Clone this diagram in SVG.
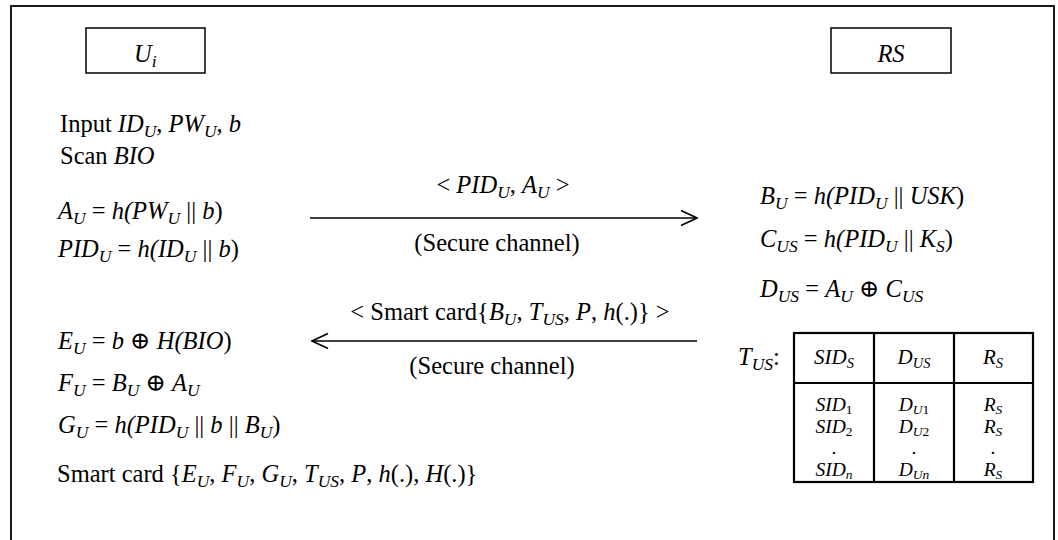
<svg xmlns="http://www.w3.org/2000/svg" width="1058" height="540" viewBox="0 0 1058 540">
<style>
text{font-family:"Liberation Serif","Times New Roman","DejaVu Serif",serif;font-size:24.5px;fill:#000}
.i{font-style:italic}
.s{font-size:17.5px}
.n{font-style:normal}
.tb{font-size:21px}
.tb .s{font-size:14.5px}
.tr{font-size:19.5px}
.tr .s{font-size:13.5px}
.box{fill:#fff;stroke:#000;stroke-width:1.5}
.ln{stroke:#000;stroke-width:1.6;fill:none}
.tl{stroke:#000;stroke-width:2.2;fill:none}
</style>
<defs>
<marker id="ah" viewBox="0 0 18 18" refX="17" refY="9" markerWidth="18" markerHeight="18" markerUnits="userSpaceOnUse" orient="auto">
<path d="M1,1.5 L17,9 L1,16.5" fill="none" stroke="#000" stroke-width="1.6"/>
</marker>
</defs>
<rect x="0" y="0" width="1058" height="540" fill="#fff"/>
<rect x="11" y="6" width="1043" height="540" fill="none" stroke="#000" stroke-width="1.8"/>

<g id="node-ui">
<rect class="box" x="86" y="28" width="119" height="45"/>
<text x="134" y="62" class="i">U<tspan class="s" dy="5">i</tspan></text>
</g>

<g id="node-rs">
<rect class="box" x="831" y="28" width="120" height="45"/>
<text x="891" y="62" class="i" text-anchor="middle">RS</text>
</g>

<g id="user-steps">
<text x="60" y="132">Input <tspan class="i">ID</tspan><tspan class="i s" dy="5">U</tspan><tspan dy="-5">, </tspan><tspan class="i">PW</tspan><tspan class="i s" dy="5">U</tspan><tspan dy="-5">, </tspan><tspan class="i">b</tspan></text>
<text x="60" y="164">Scan <tspan class="i">BIO</tspan></text>
<text x="58" y="219" class="i">A<tspan class="s" dy="5">U</tspan><tspan dy="-5" class="n"> = </tspan>h(PW<tspan class="s" dy="5">U</tspan><tspan dy="-5" class="n"> || </tspan>b<tspan class="n">)</tspan></text>
<text x="58" y="257" class="i">PID<tspan class="s" dy="5">U</tspan><tspan dy="-5" class="n"> = </tspan>h(ID<tspan class="s" dy="5">U</tspan><tspan dy="-5" class="n"> || </tspan>b<tspan class="n">)</tspan></text>
<text x="58" y="349" class="i">E<tspan class="s" dy="5">U</tspan><tspan dy="-5" class="n"> = </tspan>b<tspan class="n"> ⊕ </tspan>H(BIO<tspan class="n">)</tspan></text>
<text x="58" y="391" class="i">F<tspan class="s" dy="5">U</tspan><tspan dy="-5" class="n"> = </tspan>B<tspan class="s" dy="5">U</tspan><tspan dy="-5" class="n"> ⊕ </tspan>A<tspan class="s" dy="5">U</tspan></text>
<text x="58" y="433" class="i">G<tspan class="s" dy="5">U</tspan><tspan dy="-5" class="n"> = </tspan>h(PID<tspan class="s" dy="5">U</tspan><tspan dy="-5" class="n"> || </tspan>b<tspan class="n"> || </tspan>B<tspan class="s" dy="5">U</tspan><tspan dy="-5" class="n">)</tspan></text>
<text x="57" y="482">Smart card {<tspan class="i">E</tspan><tspan class="i s" dy="5">U</tspan><tspan dy="-5">, </tspan><tspan class="i">F</tspan><tspan class="i s" dy="5">U</tspan><tspan dy="-5">, </tspan><tspan class="i">G</tspan><tspan class="i s" dy="5">U</tspan><tspan dy="-5">, </tspan><tspan class="i">T</tspan><tspan class="i s" dy="5">US</tspan><tspan dy="-5">, </tspan><tspan class="i">P</tspan>, <tspan class="i">h</tspan>(.), <tspan class="i">H</tspan>(.)}</text>
</g>

<g id="server-steps">
<text x="760" y="204" class="i">B<tspan class="s" dy="5">U</tspan><tspan dy="-5" class="n"> = </tspan>h(PID<tspan class="s" dy="5">U</tspan><tspan dy="-5" class="n"> || </tspan>USK<tspan class="n">)</tspan></text>
<text x="760" y="247" class="i">C<tspan class="s" dy="5">US</tspan><tspan dy="-5" class="n"> = </tspan>h(PID<tspan class="s" dy="5">U</tspan><tspan dy="-5" class="n"> || </tspan>K<tspan class="s" dy="5">S</tspan><tspan dy="-5" class="n">)</tspan></text>
<text x="760" y="297" class="i">D<tspan class="s" dy="5">US</tspan><tspan dy="-5" class="n"> = </tspan>A<tspan class="s" dy="5">U</tspan><tspan dy="-5" class="n"> ⊕ </tspan>C<tspan class="s" dy="5">US</tspan></text>
</g>

<g id="table-tus">
<text x="738" y="365" class="i">T<tspan class="s" dy="5">US</tspan><tspan dy="-5" class="n">:</tspan></text>
<rect x="794" y="333" width="239" height="149" class="tl"/>
<line x1="874" y1="333" x2="874" y2="482" class="tl"/>
<line x1="954" y1="333" x2="954" y2="482" class="tl"/>
<line x1="794" y1="383" x2="1033" y2="383" class="tl"/>
<text x="834" y="364" class="tb i" text-anchor="middle">SID<tspan class="s" dy="4">S</tspan></text>
<text x="914" y="364" class="tb i" text-anchor="middle">D<tspan class="s" dy="4">US</tspan></text>
<text x="993" y="364" class="tb i" text-anchor="middle">R<tspan class="s" dy="4">S</tspan></text>
<text class="tr i" text-anchor="middle"><tspan x="834" y="411">SID<tspan class="s n" dy="3">1</tspan></tspan><tspan x="834" y="433">SID<tspan class="s n" dy="3">2</tspan></tspan><tspan x="834" y="454" class="n">.</tspan><tspan x="834" y="476">SID<tspan class="s" dy="3">n</tspan></tspan></text>
<text class="tr i" text-anchor="middle"><tspan x="914" y="411">D<tspan class="s" dy="3">U<tspan class="n">1</tspan></tspan></tspan><tspan x="914" y="433">D<tspan class="s" dy="3">U<tspan class="n">2</tspan></tspan></tspan><tspan x="914" y="454" class="n">.</tspan><tspan x="914" y="476">D<tspan class="s" dy="3">Un</tspan></tspan></text>
<text class="tr i" text-anchor="middle"><tspan x="993" y="411">R<tspan class="s" dy="3">S</tspan></tspan><tspan x="993" y="433">R<tspan class="s" dy="3">S</tspan></tspan><tspan x="993" y="454" class="n">.</tspan><tspan x="993" y="476">R<tspan class="s" dy="3">S</tspan></tspan></text>
</g>

<g id="connectors">
<line x1="310" y1="218" x2="697" y2="218" class="ln" marker-end="url(#ah)"/>
<line x1="697" y1="341" x2="312" y2="341" class="ln" marker-end="url(#ah)"/>
<text x="503" y="193" text-anchor="middle">&lt; <tspan class="i">PID</tspan><tspan class="i s" dy="5">U</tspan><tspan dy="-5">, </tspan><tspan class="i">A</tspan><tspan class="i s" dy="5">U</tspan><tspan dy="-5"> &gt;</tspan></text>
<text x="497" y="251" text-anchor="middle">(Secure channel)</text>
<text x="510" y="320" text-anchor="middle">&lt; Smart card{<tspan class="i">B</tspan><tspan class="i s" dy="5">U</tspan><tspan dy="-5">, </tspan><tspan class="i">T</tspan><tspan class="i s" dy="5">US</tspan><tspan dy="-5">, </tspan><tspan class="i">P</tspan>, <tspan class="i">h</tspan>(.)} &gt;</text>
<text x="492" y="374" text-anchor="middle">(Secure channel)</text>
</g>
</svg>
